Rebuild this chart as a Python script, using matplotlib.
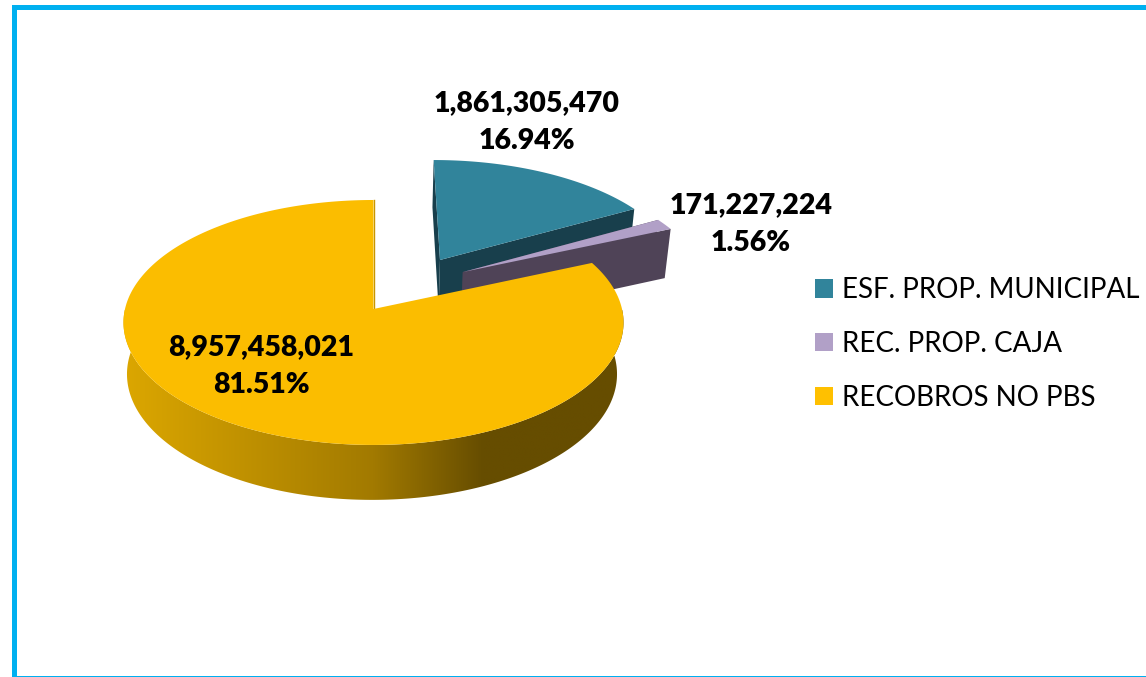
import numpy as np
import matplotlib
matplotlib.use("Agg")
import matplotlib.pyplot as plt
from matplotlib.colors import LinearSegmentedColormap
from matplotlib.patches import Patch, Polygon, Rectangle

categories = ["ESF. PROP. MUNICIPAL", "REC. PROP. CAJA", "RECOBROS NO PBS"]
values = [1861305470, 171227224, 8957458021]

top_colors = ["#31849b", "#b1a0c7", "#fbbd00"]
legend_colors = ["#31849b", "#b1a0c7", "#ffc000"]
wall_colors = ["#183f4c", "#4f4357", "#c89600"]
offsets = [(0.28, 0.424), (0.372, 0.316), (0.0, 0.0)]
label_pos = [(527, 122), (751, 224), (261, 366)]

# projection of the pie disc, in pixels of the reference
CX, CY = 373.5, 309
RX, RY = 248.5, 121
PERSP = 0.11
SHRINK = 0.98
DEPTH = 51.3


def project(theta, off, bottom=False):
    # theta in degrees, clockwise from 12 o'clock
    t = np.radians(theta)
    X = np.atleast_1d(np.sin(t) + off[0])
    Y = np.atleast_1d(np.cos(t) + off[1])
    s = 1 / (1 + PERSP * Y)
    k = SHRINK if bottom else 1.0
    xs = CX + RX * X * s * k
    ys = CY - RY * Y * s * k
    if bottom:
        ys = ys + DEPTH * s
    return np.column_stack([xs, ys])


def apex(off, bottom=False):
    X, Y = off
    s = 1 / (1 + PERSP * Y)
    k = SHRINK if bottom else 1.0
    y = CY - RY * Y * s * k + (DEPTH * s if bottom else 0)
    return np.array([[CX + RX * X * s * k, y]])


def face(a, off, color, z):
    # flat cut face between the centre and the rim at angle a
    pts = np.vstack([apex(off), project(a, off), project(a, off, True), apex(off, True)])
    ax.add_patch(Polygon(pts, closed=True, fc=color, ec="none", zorder=z))


total = sum(values)
edges = np.concatenate([[0], np.cumsum(values) / total * 360])

fig = plt.figure(figsize=(11.46, 6.77), dpi=100)
ax = fig.add_axes([0, 0, 1, 1])

# frame
ax.add_patch(Rectangle((13.5, 6.5), 1150, 671, fc="white", ec="#00b0f0", lw=3.6, zorder=0))

# teal and purple wedges, pulled out
for i in [0, 1]:
    z = 2 + i * 2
    face(edges[i], offsets[i], wall_colors[i], z)
    face(edges[i + 1], offsets[i], wall_colors[i], z)
    arc = project(np.linspace(edges[i], edges[i + 1], 60), offsets[i])
    ax.add_patch(Polygon(np.vstack([apex(offsets[i]), arc]), closed=True,
                         fc=top_colors[i], ec="none", zorder=z + 1))

# yellow side wall with its shading
front = np.linspace(85, 275, 200)
low = project(front[::-1], offsets[2], True) - [1.5, 0]
wall = np.vstack([project(front, offsets[2]), low])
wall_patch = Polygon(wall, closed=True, fc="none", ec="none", transform=ax.transData)
ax.add_patch(wall_patch)
shade = LinearSegmentedColormap.from_list("shade", [(0, "#dcA700"), (0.5, "#a27a00"),
                                                    (0.72, "#664d00"), (1, "#664d00")])
im = ax.imshow(np.linspace(0, 1, 256)[None, :], extent=(122, 624, 510, 310), cmap=shade,
               aspect="auto", zorder=6, interpolation="bilinear")
im.set_clip_path(wall_patch)

# yellow top
arc = project(np.linspace(edges[2], edges[3], 300), offsets[2])
sliver = np.vstack([apex(offsets[2]), project(360, offsets[2])])
ax.plot(sliver[:, 0] + 0.5, sliver[:, 1], color=wall_colors[2], lw=1, zorder=7)
ax.add_patch(Polygon(np.vstack([apex(offsets[2]), arc]), closed=True,
                     fc=top_colors[2], ec="none", zorder=8))

# labels
for v, pos in zip(values, label_pos):
    ax.text(pos[0], pos[1], f"{v:,}\n{v / total:.2%}", ha="center", va="center",
            family="Lato", weight="heavy", fontsize=20.5, linespacing=1.6, color="black", zorder=10)

handles = [Patch(fc=c, ec="none") for c in legend_colors]
ax.legend(handles, categories, loc="upper left", bbox_to_anchor=(815, 277),
          bbox_transform=ax.transData, frameon=False, borderpad=0, borderaxespad=0,
          prop={"family": "Lato", "size": 20}, labelcolor="black", handlelength=0.65,
          handleheight=0.65, handletextpad=0.32, labelspacing=1.0)

ax.set_xlim(0, 1146)
ax.set_ylim(677, 0)
ax.axis("off")
fig.savefig("out.png", dpi=100, facecolor="white")
